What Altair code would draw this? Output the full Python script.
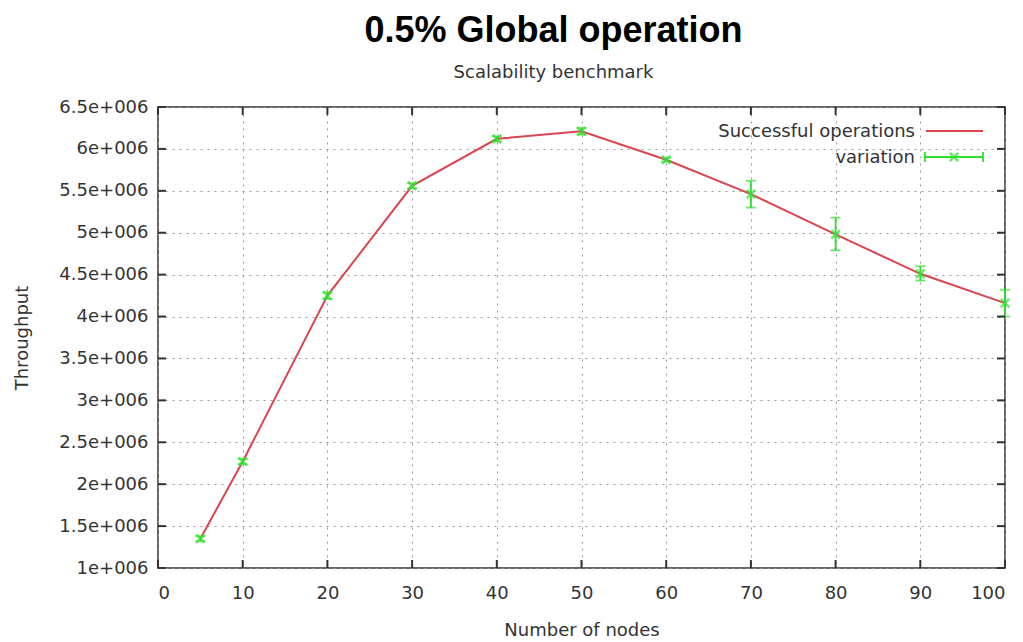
import altair as alt
import pandas as pd

nodes = [5, 10, 20, 30, 40, 50, 60, 70, 80, 90, 100]
throughput = [1.35e6, 2.27e6, 4.25e6, 5.56e6, 6.12e6, 6.21e6, 5.87e6, 5.46e6, 4.98e6, 4.51e6, 4.16e6]
err_low = [1.32e6, 2.24e6, 4.21e6, 5.53e6, 6.09e6, 6.17e6, 5.85e6, 5.30e6, 4.79e6, 4.43e6, 4.00e6]
err_high = [1.38e6, 2.30e6, 4.29e6, 5.59e6, 6.15e6, 6.25e6, 5.89e6, 5.62e6, 5.18e6, 4.60e6, 4.32e6]
x_ticks = list(range(0, 101, 10))
y_ticks = [1e6 + 0.5e6 * i for i in range(12)]
legend_labels = ["Successful operations", "variation"]

W, H = 847, 461
RED = "#db4550"
GREEN = "#2ee02e"
FONT = "DejaVu Sans"
FS = 18
TXT = "#333"

df = pd.DataFrame({"nodes": nodes, "tp": throughput, "lo": err_low, "hi": err_high})

xscale = alt.Scale(domain=[0, 100], nice=False, zero=False)
yscale = alt.Scale(domain=[1e6, 6.5e6], nice=False, zero=False)

xaxis = alt.Axis(
    values=x_ticks, tickSize=0, labelPadding=16, labelFontSize=FS, labelColor=TXT,
    labelFont=FONT, grid=True, gridDash=[2, 5], gridColor="#999", gridWidth=1,
    domain=False, title="Number of nodes", titleFont=FONT, titleFontSize=FS,
    titleFontWeight="normal", titleColor=TXT, titleY=62, titleBaseline="middle",
)
yaxis = alt.Axis(
    values=y_ticks, tickSize=0, labelPadding=10, labelFontSize=FS, labelColor=TXT,
    labelFont=FONT, grid=True, gridDash=[2, 5], gridColor="#999", gridWidth=1,
    domain=False, labelExpr="toString(datum.value/1000000) + 'e+006'",
    title="Throughput", titleFont=FONT, titleFontSize=FS, titleFontWeight="normal",
    titleColor=TXT, titleX=-136, titleBaseline="middle",
)

base = alt.Chart(df)

line = base.mark_line(color=RED, strokeWidth=2).encode(
    x=alt.X("nodes:Q", scale=xscale, axis=xaxis),
    y=alt.Y("tp:Q", scale=yscale, axis=yaxis),
)

bars = base.mark_rule(color=GREEN, strokeWidth=1.8).encode(
    x="nodes:Q", y="lo:Q", y2="hi:Q"
)
cap_lo = base.mark_tick(color=GREEN, orient="horizontal", size=10, thickness=1.8).encode(
    x="nodes:Q", y="lo:Q"
)
cap_hi = base.mark_tick(color=GREEN, orient="horizontal", size=10, thickness=1.8).encode(
    x="nodes:Q", y="hi:Q"
)
pts = base.mark_point(
    shape="M-1,-1L1,1M-1,1L1,-1", color=GREEN, filled=False, strokeWidth=2.5, size=70
).encode(x="nodes:Q", y="tp:Q")

# inward gnuplot-style ticks
xt = pd.DataFrame({"v": x_ticks})
yt = pd.DataFrame({"v": y_ticks})
tick_bottom = alt.Chart(xt).mark_rule(color="#333", strokeWidth=2).encode(
    x="v:Q", y=alt.value(H), y2=alt.value(H - 8))
tick_top = alt.Chart(xt).mark_rule(color="#333", strokeWidth=2).encode(
    x="v:Q", y=alt.value(0), y2=alt.value(8))
tick_left = alt.Chart(yt).mark_rule(color="#333", strokeWidth=2).encode(
    y="v:Q", x=alt.value(0), x2=alt.value(8))
tick_right = alt.Chart(yt).mark_rule(color="#333", strokeWidth=2).encode(
    y="v:Q", x=alt.value(W), x2=alt.value(W - 8))

# legend (gnuplot style: label then sample)
leg1 = alt.Chart(alt.Data(values=[{"t": legend_labels[0]}])).mark_text(
    align="right", baseline="middle", font=FONT, fontSize=FS, color=TXT
).encode(text="t:N", x=alt.value(757), y=alt.value(25))
leg2 = alt.Chart(alt.Data(values=[{"t": legend_labels[1]}])).mark_text(
    align="right", baseline="middle", font=FONT, fontSize=FS, color=TXT
).encode(text="t:N", x=alt.value(757), y=alt.value(51))
one = alt.Data(values=[{"a": 1}])
leg_line = alt.Chart(one).mark_rule(color=RED, strokeWidth=2).encode(
    x=alt.value(768), x2=alt.value(825), y=alt.value(24))
leg_err = alt.Chart(one).mark_rule(color=GREEN, strokeWidth=1.8).encode(
    x=alt.value(767), x2=alt.value(825), y=alt.value(50))
leg_cap1 = alt.Chart(one).mark_rule(color=GREEN, strokeWidth=1.8).encode(
    x=alt.value(767), y=alt.value(45), y2=alt.value(55))
leg_cap2 = alt.Chart(one).mark_rule(color=GREEN, strokeWidth=1.8).encode(
    x=alt.value(825), y=alt.value(45), y2=alt.value(55))
leg_pt = alt.Chart(one).mark_point(
    shape="M-1,-1L1,1M-1,1L1,-1", color=GREEN, filled=False, strokeWidth=2.5, size=70
).encode(x=alt.value(796), y=alt.value(50))

chart = alt.layer(
    line, bars, cap_lo, cap_hi, pts,
    tick_bottom, tick_top, tick_left, tick_right,
    leg1, leg2, leg_line, leg_err, leg_cap1, leg_cap2, leg_pt,
).properties(
    width=W, height=H,
    autosize=alt.AutoSizeParams(type="none"),
    padding={"left": 150, "top": 99, "right": 10, "bottom": 70},
    title=alt.TitleParams(
        text="0.5% Global operation",
        subtitle="Scalability benchmark",
        font="Liberation Sans", fontSize=36, fontWeight="bold", color="#000",
        subtitleFont=FONT, subtitleFontSize=FS, subtitleColor=TXT,
        subtitlePadding=14, anchor="middle", dx=-28, offset=15,
    ),
).configure_view(stroke="#333", strokeWidth=1.5)

chart.save("out.html", embed_options={"renderer": "svg", "actions": False})
